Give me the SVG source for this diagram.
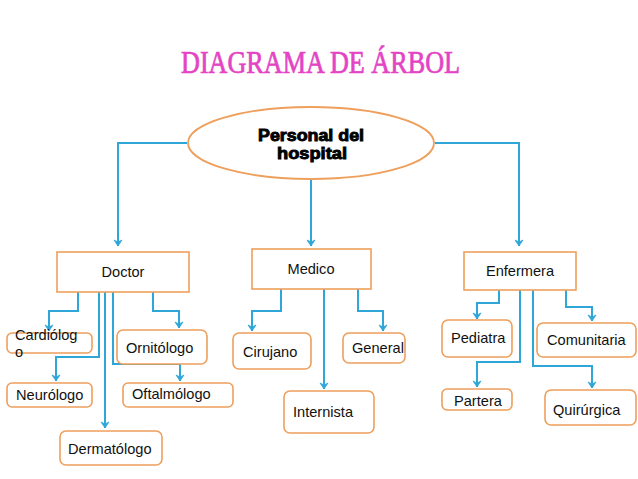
<svg xmlns="http://www.w3.org/2000/svg" width="638" height="479" viewBox="0 0 638 479">
<defs>
<marker id="arr" viewBox="-7 -6 8 12" refX="0" refY="0" markerWidth="8" markerHeight="12" markerUnits="userSpaceOnUse" orient="auto">
<path d="M-6,-4 L0,0 L-6,4 L-4,0 z" fill="#2ea6d8" stroke="#2ea6d8" stroke-width="0.8" stroke-linejoin="round"/>
</marker>
<style>
.c{fill:none;stroke:#2ea6d8;stroke-width:2;marker-end:url(#arr)}
.b{fill:#fff;stroke:#ee9f5c;stroke-width:1.6}
.t{font-family:"Liberation Sans",Arial,sans-serif;font-size:14.6px;fill:#111}
.h{font-family:"Liberation Sans",Arial,sans-serif;font-weight:bold;font-size:16px;fill:#000;stroke:#000;stroke-width:0.9}
</style>
</defs>
<rect width="638" height="479" fill="#fff"/>
<text x="181" y="73" font-family="Liberation Serif,serif" font-size="31" fill="#e444c4" stroke="#e444c4" stroke-width="0.7" textLength="279" lengthAdjust="spacingAndGlyphs">DIAGRAMA DE ÁRBOL</text>
<g id="connectors">
<path class="c" d="M187,143 H118 V246"/>
<path class="c" d="M311,179 V246"/>
<path class="c" d="M435,143 H519 V246"/>
<path class="c" d="M78,292 V311 H49 V331"/>
<path class="c" d="M99,292 V357 H56 V381"/>
<path class="c" d="M105,292 V428"/>
<path class="c" d="M113,292 V364 H180 V381"/>
<path class="c" d="M153,292 V311 H179 V328"/>
<path class="c" d="M281,289 V311 H252 V331"/>
<path class="c" d="M324,289 V389"/>
<path class="c" d="M358,289 V311 H383 V331"/>
<path class="c" d="M499,290 V303 H477 V319"/>
<path class="c" d="M520,290 V362 H477 V387"/>
<path class="c" d="M533,290 V366 H592 V388"/>
<path class="c" d="M566,290 V307 H592 V321"/>
</g>
<g id="root">
<ellipse cx="311" cy="143" rx="123" ry="36" fill="#fff" stroke="#ee9f5c" stroke-width="1.8"/>
<text class="h" x="311" y="141" text-anchor="middle" textLength="106" lengthAdjust="spacingAndGlyphs">Personal del</text>
<text class="h" x="312" y="159" text-anchor="middle" textLength="70" lengthAdjust="spacingAndGlyphs">hospital</text>
</g>
<g id="doctor"><rect class="b" x="57" y="252" width="132" height="40"/><text class="t" x="123" y="277" text-anchor="middle">Doctor</text></g>
<g id="medico"><rect class="b" x="252" y="249" width="119" height="40"/><text class="t" x="311" y="274" text-anchor="middle">Medico</text></g>
<g id="enfermera"><rect class="b" x="464" y="252" width="112" height="38"/><text class="t" x="520" y="276" text-anchor="middle">Enfermera</text></g>
<g id="cardiologo"><rect class="b" x="7" y="333" width="85" height="20" rx="5"/><text class="t" x="15" y="340">Cardiólog</text><text class="t" x="15" y="357">o</text></g>
<g id="ornitologo"><rect class="b" x="117" y="330" width="90" height="34" rx="6"/><text class="t" x="126" y="353">Ornitólogo</text></g>
<g id="neurologo"><rect class="b" x="7" y="383" width="85" height="24" rx="5"/><text class="t" x="16" y="400">Neurólogo</text></g>
<g id="oftalmologo"><rect class="b" x="123" y="383" width="110" height="24" rx="5"/><text class="t" x="132" y="399">Oftalmólogo</text></g>
<g id="dermatologo"><rect class="b" x="60" y="431" width="102" height="34" rx="6"/><text class="t" x="68" y="454">Dermatólogo</text></g>
<g id="cirujano"><rect class="b" x="233" y="333" width="78" height="36" rx="6"/><text class="t" x="243" y="357">Cirujano</text></g>
<g id="general"><rect class="b" x="343" y="333" width="62" height="30" rx="6"/><text class="t" x="352" y="353">General</text></g>
<g id="internista"><rect class="b" x="284" y="391" width="90" height="42" rx="6"/><text class="t" x="293" y="417">Internista</text></g>
<g id="pediatra"><rect class="b" x="442" y="320" width="70" height="37" rx="6"/><text class="t" x="451" y="343">Pediatra</text></g>
<g id="comunitaria"><rect class="b" x="537" y="323" width="99" height="34" rx="6"/><text class="t" x="547" y="345">Comunitaria</text></g>
<g id="partera"><rect class="b" x="442" y="389" width="70" height="21" rx="5"/><text class="t" x="454" y="406">Partera</text></g>
<g id="quirurgica"><rect class="b" x="545" y="390" width="91" height="35" rx="6"/><text class="t" x="553" y="415">Quirúrgica</text></g>
</svg>
